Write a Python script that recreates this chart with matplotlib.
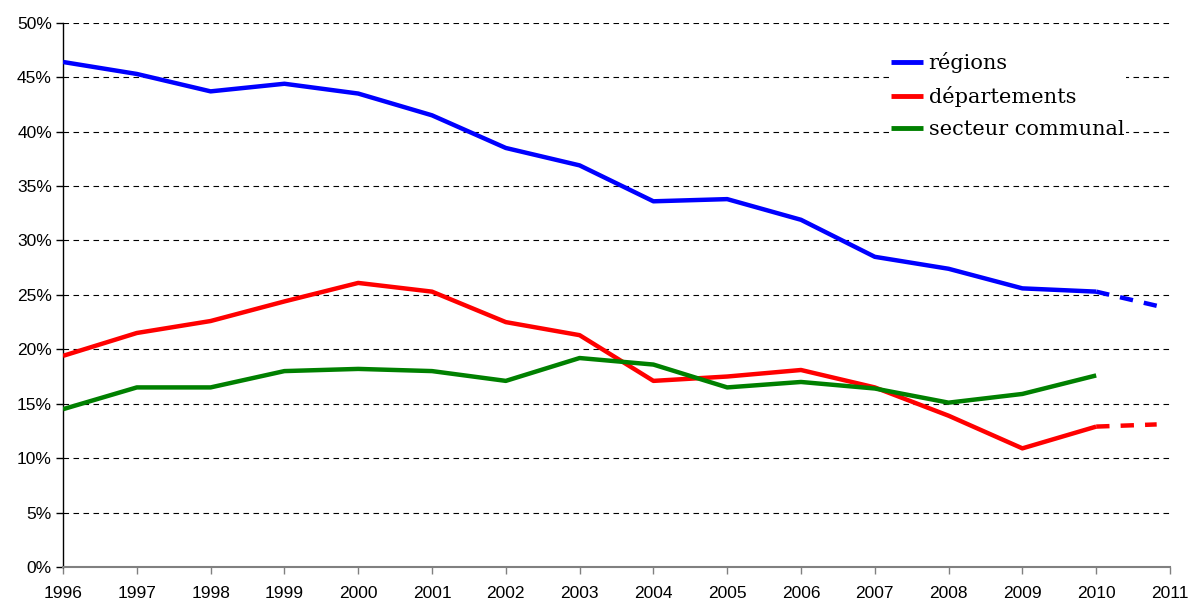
import matplotlib.pyplot as plt
from matplotlib.ticker import FuncFormatter

# data (share, %)
years = [1996, 1997, 1998, 1999, 2000, 2001, 2002, 2003, 2004, 2005, 2006, 2007, 2008, 2009, 2010]
regions = [46.4, 45.3, 43.7, 44.4, 43.5, 41.5, 38.5, 36.9, 33.6, 33.8, 31.9, 28.5, 27.4, 25.6, 25.3]
departements = [19.4, 21.5, 22.6, 24.4, 26.1, 25.3, 22.5, 21.3, 17.1, 17.5, 18.1, 16.5, 13.9, 10.9, 12.9]
communal = [14.5, 16.5, 16.5, 18.0, 18.2, 18.0, 17.1, 19.2, 18.6, 16.5, 17.0, 16.4, 15.1, 15.9, 17.6]

# dashed projections after 2010
proj_years = [2010, 2010.82]
regions_proj = [25.3, 24.0]
departements_proj = [12.9, 13.1]

xticks = list(range(1996, 2012))
yticks = list(range(0, 55, 5))

blue = "#0000ff"
red = "#ff0000"
green = "#008000"

fig = plt.figure(figsize=(11.89, 6.0), dpi=100)
ax = fig.add_axes([0.053, 0.055, 0.931, 0.907])

for y in yticks[1:]:
    ax.axhline(y, color="black", lw=0.8, ls=(0, (5, 4)), zorder=1)

ax.plot(years, regions, color=blue, lw=3.2, label="régions", zorder=3, solid_capstyle="butt")
ax.plot(years, departements, color=red, lw=3.2, label="départements", zorder=3, solid_capstyle="butt")
ax.plot(years, communal, color=green, lw=3.2, label="secteur communal", zorder=3, solid_capstyle="butt")
ax.plot(proj_years, regions_proj, color=blue, lw=3.2, ls=(0, (3, 2.5)), zorder=3)
ax.plot(proj_years, departements_proj, color=red, lw=3.2, ls=(0, (3, 2.5)), zorder=3)

ax.set_xlim(1996, 2011)
ax.set_ylim(0, 50)
ax.set_xticks(xticks)
ax.set_yticks(yticks)
ax.yaxis.set_major_formatter(FuncFormatter(lambda v, p: "%d%%" % v))

for s in ["top", "right"]:
    ax.spines[s].set_visible(False)
ax.spines["left"].set_color("black")
ax.spines["bottom"].set_color("#808080")
ax.spines["left"].set_linewidth(1.0)
ax.spines["bottom"].set_linewidth(1.5)
ax.tick_params(axis="both", direction="out", length=5, width=1, labelsize=12.5,
               colors="black")
ax.tick_params(axis="x", color="#808080", pad=9)
ax.tick_params(axis="y", pad=3)
for lab in ax.get_xticklabels() + ax.get_yticklabels():
    lab.set_family("Liberation Sans")

leg = ax.legend(loc="upper left", bbox_to_anchor=(889 / 1189, 1 - 50 / 600),
                bbox_transform=fig.transFigure, frameon=True, fancybox=False,
                edgecolor="none", facecolor="white", framealpha=1,
                prop={"family": "DejaVu Serif", "size": 15},
                handlelength=1.55, handletextpad=0.25, labelspacing=0.62,
                borderpad=0.1, borderaxespad=0)
for line in leg.get_lines():
    line.set_linewidth(3.5)
leg.set_zorder(4)

fig.savefig("out.png", dpi=100)
